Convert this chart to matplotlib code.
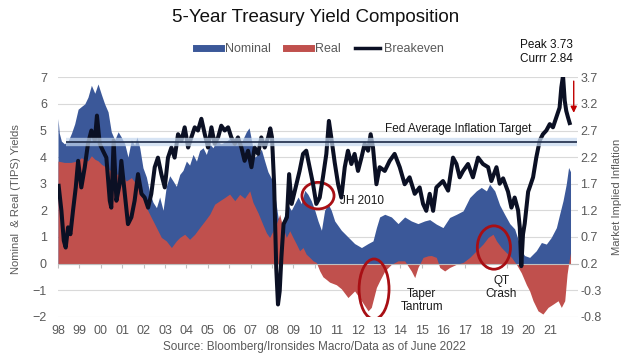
import numpy as np
import matplotlib.pyplot as plt
from matplotlib.lines import Line2D
from matplotlib.patches import Ellipse

plt.rcParams['font.family'] = ['Liberation Sans', 'DejaVu Sans']

# 5y nominal yield, % (left axis)
nom_t = [1998.00, 1998.06, 1998.16, 1998.30, 1998.47, 1998.63, 1998.78, 1998.94, 1999.09, 1999.25,
         1999.40, 1999.56, 1999.72, 1999.87, 2000.03, 2000.18, 2000.34, 2000.49, 2000.65, 2000.81,
         2000.96, 2001.12, 2001.27, 2001.43, 2001.58, 2001.69, 2001.82, 2001.97, 2002.13, 2002.29,
         2002.44, 2002.60, 2002.75, 2002.91, 2003.06, 2003.22, 2003.38, 2003.53, 2003.69, 2003.84,
         2004.00, 2004.15, 2004.31, 2004.47, 2004.62, 2004.78, 2004.93, 2005.09, 2005.24, 2005.40,
         2005.63, 2005.87, 2006.10, 2006.34, 2006.57, 2006.80, 2006.93, 2007.05, 2007.19, 2007.35,
         2007.50, 2007.66, 2007.81, 2007.97, 2008.13, 2008.28, 2008.44, 2008.59, 2008.75, 2008.90,
         2009.06, 2009.22, 2009.37, 2009.53, 2009.68, 2009.84, 2010.00, 2010.15, 2010.31, 2010.46,
         2010.62, 2010.77, 2010.93, 2011.24, 2011.55, 2011.86, 2012.18, 2012.49, 2012.72, 2012.88,
         2013.03, 2013.27, 2013.58, 2013.89, 2014.20, 2014.51, 2014.82, 2015.13, 2015.37, 2015.68,
         2015.99, 2016.30, 2016.62, 2016.93, 2017.24, 2017.55, 2017.78, 2018.02, 2018.17, 2018.41,
         2018.64, 2018.87, 2019.11, 2019.34, 2019.50, 2019.65, 2019.80, 2020.04, 2020.35, 2020.59,
         2020.82, 2021.05, 2021.29, 2021.44, 2021.60, 2021.75, 2021.86, 2021.95]
nom_v = [5.45, 4.90, 4.60, 4.50, 4.60, 4.90, 5.25, 5.80, 5.90, 6.00,
         6.25, 6.70, 6.40, 6.75, 6.35, 6.00, 5.70, 4.95, 4.65, 4.95,
         4.75, 4.50, 4.00, 4.65, 4.45, 4.75, 4.35, 3.60, 3.25, 2.65,
         2.30, 2.10, 2.50, 2.00, 2.90, 3.30, 3.10, 2.90, 3.35, 3.50,
         3.85, 3.70, 4.10, 3.85, 4.25, 4.35, 4.10, 4.50, 4.35, 4.60,
         4.50, 4.60, 4.75, 4.65, 4.55, 4.95, 5.10, 4.60, 4.00, 4.10,
         4.30, 3.85, 3.45, 3.20, 2.60, 1.75, 1.25, 1.85, 2.20, 2.00,
         2.25, 2.50, 2.25, 2.75, 2.60, 2.35, 2.00, 1.60, 1.25, 2.00,
         2.25, 2.00, 1.60, 1.25, 1.00, 0.75, 0.60, 0.75, 0.85, 1.35,
         1.75, 1.85, 1.75, 1.50, 1.75, 1.60, 1.50, 1.60, 1.65, 1.48,
         1.35, 1.73, 1.85, 1.98, 2.48, 2.73, 2.86, 2.73, 2.98, 2.73,
         2.20, 1.85, 1.50, 1.30, 0.90, 0.50, 0.30, 0.23, 0.48, 0.79,
         0.73, 0.98, 1.35, 1.85, 2.36, 2.98, 3.61, 3.45]

# 5y TIPS real yield, % (left axis)
real_t = [1998.00, 1998.30, 1998.60, 1998.94, 1999.09, 1999.25, 1999.40, 1999.56, 1999.72, 1999.87,
          2000.03, 2000.26, 2000.49, 2000.73, 2000.96, 2001.19, 2001.43, 2001.66, 2001.90, 2002.13,
          2002.36, 2002.60, 2002.83, 2003.06, 2003.30, 2003.53, 2003.69, 2003.92, 2004.15, 2004.39,
          2004.62, 2004.86, 2005.09, 2005.32, 2005.56, 2005.79, 2006.02, 2006.26, 2006.49, 2006.72,
          2006.96, 2007.11, 2007.35, 2007.58, 2007.74, 2007.89, 2008.05, 2008.20, 2008.36, 2008.51,
          2008.67, 2008.83, 2008.98, 2009.14, 2009.29, 2009.45, 2009.60, 2009.76, 2009.92, 2010.07,
          2010.23, 2010.38, 2010.54, 2010.69, 2010.85, 2011.01, 2011.24, 2011.55, 2011.86, 2012.18,
          2012.49, 2012.64, 2012.88, 2013.03, 2013.27, 2013.58, 2013.89, 2014.20, 2014.51, 2014.67,
          2014.82, 2015.06, 2015.29, 2015.45, 2015.68, 2015.84, 2016.07, 2016.30, 2016.62, 2016.93,
          2017.24, 2017.55, 2017.86, 2018.10, 2018.33, 2018.49, 2018.72, 2018.95, 2019.19, 2019.42,
          2019.65, 2019.89, 2020.04, 2020.20, 2020.43, 2020.66, 2020.90, 2021.13, 2021.37, 2021.52,
          2021.68, 2021.79, 2021.88, 2021.95]
real_v = [3.85, 3.80, 3.80, 3.86, 3.98, 3.90, 3.86, 4.05, 3.92, 3.86,
          3.73, 3.61, 3.48, 3.36, 3.36, 3.10, 3.23, 2.98, 2.61, 2.10,
          1.73, 1.35, 0.98, 0.85, 0.60, 0.85, 0.98, 1.10, 0.91, 1.10,
          1.35, 1.60, 1.85, 2.23, 2.36, 2.48, 2.61, 2.36, 2.60, 2.45,
          2.73, 2.30, 1.90, 1.45, 1.15, 0.98, 1.23, 1.48, 1.85, 1.35,
          0.98, 1.23, 0.98, 0.73, 0.48, 0.60, 0.35, 0.23, 0.10, 0.04,
          -0.28, -0.50, -0.60, -0.70, -0.75, -0.80, -0.95, -1.28, -1.03, -1.40,
          -1.78, -1.65, -0.90, -0.65, -0.28, -0.03, 0.10, 0.10, -0.28, -0.53,
          -0.15, 0.23, 0.29, 0.30, 0.23, -0.15, -0.28, -0.15, -0.03, 0.04,
          0.23, 0.48, 0.73, 0.98, 1.10, 0.85, 0.60, 0.41, 0.23, -0.03,
          -0.35, -0.80, -1.03, -1.40, -1.78, -1.90, -1.65, -1.53, -1.40, -1.65,
          -1.40, -0.40, 0.10, 0.40]

# 5y breakeven, % (right axis)
be_t = [1998.03, 1998.16, 1998.27, 1998.36, 1998.47, 1998.58, 1998.70, 1998.83, 1998.94, 1999.09,
        1999.25, 1999.40, 1999.56, 1999.72, 1999.82, 1999.95, 2000.10, 2000.26, 2000.42, 2000.49,
        2000.60, 2000.73, 2000.88, 2000.96, 2001.12, 2001.27, 2001.43, 2001.58, 2001.74, 2001.90,
        2002.05, 2002.21, 2002.36, 2002.52, 2002.67, 2002.83, 2002.99, 2003.14, 2003.30, 2003.45,
        2003.61, 2003.77, 2003.92, 2004.08, 2004.23, 2004.39, 2004.54, 2004.70, 2004.86, 2005.01,
        2005.17, 2005.32, 2005.48, 2005.63, 2005.79, 2005.95, 2006.10, 2006.26, 2006.41, 2006.57,
        2006.72, 2006.88, 2007.04, 2007.19, 2007.35, 2007.50, 2007.66, 2007.82, 2007.92, 2008.00,
        2008.10, 2008.20, 2008.28, 2008.36, 2008.44, 2008.54, 2008.70, 2008.80, 2008.92, 2009.14,
        2009.29, 2009.45, 2009.60, 2009.76, 2009.92, 2010.07, 2010.23, 2010.38, 2010.54, 2010.66,
        2010.77, 2010.93, 2011.09, 2011.24, 2011.40, 2011.55, 2011.71, 2011.86, 2012.02, 2012.18,
        2012.33, 2012.49, 2012.61, 2012.72, 2012.88, 2013.03, 2013.27, 2013.50, 2013.73, 2013.97,
        2014.20, 2014.43, 2014.67, 2014.90, 2015.06, 2015.21, 2015.37, 2015.53, 2015.68, 2015.99,
        2016.23, 2016.46, 2016.62, 2016.77, 2016.93, 2017.16, 2017.39, 2017.63, 2017.86, 2018.10,
        2018.25, 2018.49, 2018.64, 2018.80, 2019.03, 2019.19, 2019.34, 2019.50, 2019.58, 2019.65,
        2019.73, 2019.81, 2019.97, 2020.04, 2020.20, 2020.35, 2020.51, 2020.66, 2020.82, 2020.98,
        2021.13, 2021.29, 2021.44, 2021.52, 2021.60, 2021.68, 2021.75, 2021.83, 2021.91]
be_v = [1.66, 1.19, 0.63, 0.50, 0.88, 0.75, 1.19, 1.63, 2.13, 1.63,
        2.01, 2.45, 2.70, 2.51, 2.98, 2.45, 2.32, 2.19, 1.38, 1.25,
        2.51, 1.38, 1.69, 2.13, 1.51, 0.94, 1.07, 1.38, 1.88, 1.51,
        1.44, 1.25, 1.51, 2.01, 2.19, 1.88, 1.63, 2.19, 2.38, 2.19,
        2.63, 2.51, 2.76, 2.38, 2.57, 2.76, 2.70, 2.92, 2.63, 2.38,
        2.76, 2.45, 2.57, 2.79, 2.70, 2.76, 2.57, 2.45, 2.57, 2.38,
        2.13, 2.32, 2.01, 2.38, 2.26, 2.57, 2.38, 2.57, 2.74, 2.57,
        1.69, 0.10, -0.57, -0.32, 0.32, 0.94, 1.07, 1.88, 1.32, 1.69,
        1.94, 2.26, 2.32, 2.01, 1.69, 1.32, 1.44, 1.82, 2.26, 2.88,
        2.57, 2.10, 1.69, 1.44, 2.01, 2.32, 2.07, 2.26, 1.94, 2.19,
        2.45, 2.32, 2.63, 2.38, 1.69, 2.01, 1.94, 2.13, 2.26, 2.01,
        1.69, 1.82, 1.51, 1.63, 1.32, 1.19, 1.51, 1.19, 1.63, 1.75,
        1.57, 2.19, 2.07, 1.82, 1.94, 2.07, 1.82, 2.19, 2.07, 2.01,
        1.75, 2.01, 1.70, 1.80, 1.55, 1.25, 1.44, 1.20, 0.88, 0.15,
        0.75, 0.95, 1.55, 1.63, 1.82, 2.19, 2.51, 2.63, 2.70, 2.82,
        2.76, 2.95, 3.13, 3.51, 3.73, 3.26, 3.07, 2.95, 2.84]

fed_target = 2.48
year_ticks = list(range(1998, 2022))
year_labels = [str(y)[2:] for y in year_ticks]

BLUE = '#3b5899'
RED = '#c0504d'
GRAY = '#595959'

fig = plt.figure(figsize=(6.34, 3.58), dpi=100)
ax = fig.add_axes([58 / 634, 1 - 316.7 / 358, 520 / 634, 239.4 / 358])

ax.fill_between(nom_t, 0, nom_v, color=BLUE, lw=0, zorder=2)
ax.fill_between(real_t, 0, real_v, color=RED, lw=0, zorder=3)

ax.set_xlim(1998.0, 2022.3)
ax.set_ylim(-2, 7)
ax.set_yticks(range(-2, 8))
ax.grid(axis='y', color='#d9d9d9', lw=0.8, zorder=0)
ax.set_axisbelow(True)
for s in ['top', 'right', 'left']:
    ax.spines[s].set_visible(False)
ax.spines['bottom'].set_position(('data', 0))
ax.spines['bottom'].set_color('#bfbfbf')
ax.spines['bottom'].set_zorder(4)
ax.set_xticks(year_ticks)
ax.tick_params(axis='x', direction='out', length=3, color='#bfbfbf', labelbottom=False)
ax.tick_params(axis='y', length=0, labelsize=9, labelcolor=GRAY, pad=8)
ax.set_ylabel('Nominal  & Real (TIPS) Yields', fontsize=8.1, color=GRAY)
ax.yaxis.set_label_coords(-0.071, 0.49)

sec = ax.secondary_xaxis('bottom')
sec.set_xticks(year_ticks)
sec.set_xticklabels(year_labels)
sec.tick_params(length=0, labelsize=9, labelcolor=GRAY, pad=6)
sec.spines['bottom'].set_visible(False)

for xy, w, h in [((2010.15, 2.55), 1.5, 1.0), ((2012.77, -0.96), 1.4, 2.26), ((2018.37, 0.6), 1.55, 1.63)]:
    ax.add_patch(Ellipse(xy, w, h, fill=False, ec='#a80f14', lw=2, zorder=6))

ax.text(2011.2, 2.36, 'JH 2010', fontsize=8.5, va='center', ha='left', color='#1a1a1a', zorder=7)
ax.text(2015.0, -1.4, 'Taper\nTantrum', fontsize=8.5, va='center', ha='center', color='#1a1a1a',
        linespacing=1.1, zorder=7)
ax.text(2018.72, -0.9, 'QT\nCrash', fontsize=8.5, va='center', ha='center', color='#1a1a1a',
        linespacing=1.1, zorder=7)

ax2 = ax.twinx()
ax2.set_ylim(-0.8, 3.7)
ax2.set_yticks(np.arange(-0.8, 3.71, 0.5))
ax2.set_yticklabels([f'{v:.1f}' for v in np.arange(-0.8, 3.71, 0.5)])
for s in ax2.spines.values():
    s.set_visible(False)
ax2.tick_params(axis='y', length=0, labelsize=9, labelcolor=GRAY, pad=1.5)
ax2.set_ylabel('Market Implied Inflation', fontsize=8.1, color=GRAY)
ax2.yaxis.set_label_coords(1.065, 0.5)

ax2.plot(be_t, be_v, color='#0b1024', lw=2.9, solid_joinstyle='round', zorder=3)
ax2.hlines(fed_target, 1998.36, 2022.24, color='#c6d9f0', lw=6, alpha=0.7, zorder=4)
ax2.hlines(fed_target, 1998.36, 2022.24, color='#1d2a48', lw=1.2, zorder=5)
ax2.text(2016.7, fed_target + 0.13, 'Fed Average Inflation Target', fontsize=8.5,
         ha='center', va='bottom', color='#1a1a1a', zorder=7)
ax2.annotate('', xy=(2022.1, 2.98), xytext=(2022.1, 3.68),
             arrowprops=dict(arrowstyle='-|>', color='#c00000', lw=1, mutation_scale=9))

fig.text(316 / 634, 1 - 18 / 358, '5-Year Treasury Yield Composition', fontsize=13.5,
         ha='center', va='center', color='#111111')
fig.text(520 / 634, 1 - 52 / 358, 'Peak 3.73\nCurrr 2.84', fontsize=8.5, ha='left', va='center',
         color='#111111', linespacing=1.15)
fig.text(314 / 634, 1 - 347 / 358, 'Source: Bloomberg/Ironsides Macro/Data as of June 2022',
         fontsize=8.5, ha='center', va='center', color=GRAY)

handles = [Line2D([], [], color=BLUE, lw=5), Line2D([], [], color=RED, lw=5),
           Line2D([], [], color='#0b1024', lw=2.5)]
leg = fig.legend(handles, ['Nominal', 'Real', 'Breakeven'], loc='center',
                 bbox_to_anchor=(320 / 634, 1 - 49 / 358), ncol=3, frameon=False, fontsize=9,
                 handlelength=2.0, handletextpad=0.3, columnspacing=1.2)
for t in leg.get_texts():
    t.set_color(GRAY)

fig.savefig('out.png', dpi=100)
